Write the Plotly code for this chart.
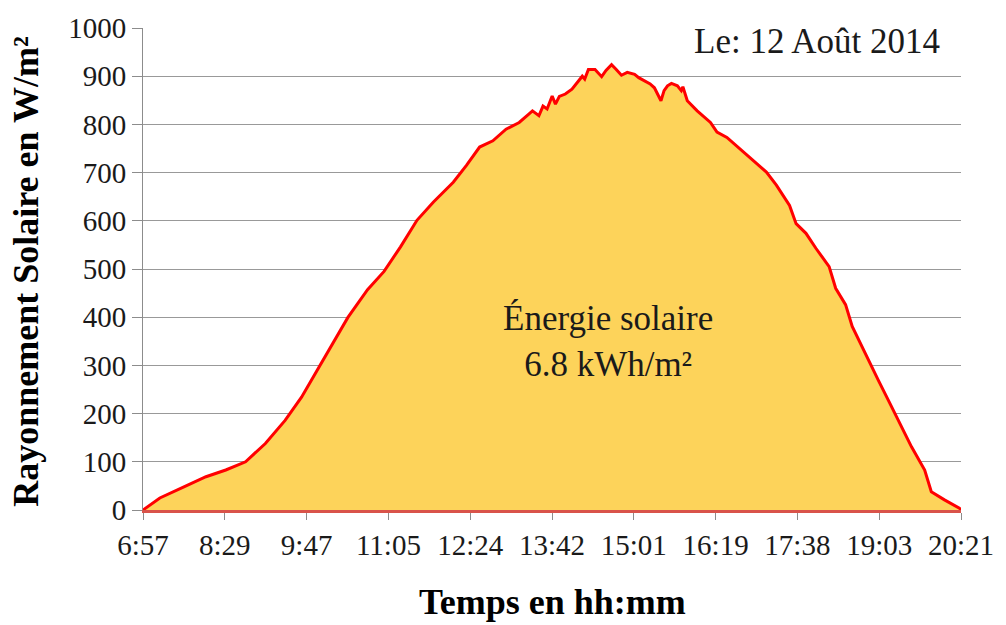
import plotly.graph_objects as go

# Position of each sample along the categorical time axis (0 = 6:57, 100 = 20:21)
sample_pos = [0.0, 2.06, 4.87, 7.70, 10.12, 12.54, 14.96, 17.37, 19.38, 21.40,
              22.21, 25.03, 27.45, 29.47, 31.48, 33.49, 35.51, 37.93, 39.54, 41.15,
              42.77, 44.38, 45.99, 46.8, 47.2, 47.61, 48.40, 48.9, 49.4, 50.02,
              50.42, 50.9, 51.63, 52.44, 53.24, 53.7, 54.0, 54.45, 55.26, 56.07,
              56.6, 57.28, 57.8, 58.49, 59.2, 60.10, 60.6, 61.31, 62.0, 62.52,
              63.32, 63.7, 64.12, 64.6, 65.33, 65.8, 66.0, 66.54, 67.75, 69.37,
              70.17, 71.38, 73.00, 74.61, 76.21, 77.43, 79.04, 79.84, 81.05, 82.26,
              83.88, 84.68, 85.89, 86.70, 88.72, 89.93, 91.14, 92.35, 93.95, 95.56,
              96.37, 97.98, 99.80, 100.0]

# Solar irradiance in W/m²
irradiance = [0, 25, 47, 69, 83, 100, 138, 186, 234, 292,
              316, 399, 457, 495, 546, 601, 639, 680, 715, 753,
              766, 790, 804, 815, 822, 828, 818, 838, 832, 859,
              842, 858, 863, 873, 890, 900, 894, 914, 914, 899,
              912, 924, 915, 902, 908, 904, 897, 890, 884, 876,
              849, 870, 880, 885, 880, 870, 878, 849, 828, 804,
              784, 773, 749, 725, 701, 674, 632, 594, 574, 543,
              505, 460, 426, 381, 309, 268, 227, 186, 131, 83,
              38, 21, 4, 0]

tick_positions = [0, 10, 20, 30, 40, 50, 60, 70, 80, 90, 100]
tick_labels = ["6:57", "8:29", "9:47", "11:05", "12:24", "13:42",
               "15:01", "16:19", "17:38", "19:03", "20:21"]

y_ticks = [0, 100, 200, 300, 400, 500, 600, 700, 800, 900, 1000]

SERIF = "Liberation Serif, Times New Roman, serif"

fig = go.Figure()
fig.add_trace(go.Scatter(
    x=sample_pos, y=irradiance, mode="lines",
    line=dict(color="#FF0000", width=3),
    fill="tozeroy", fillcolor="#FDD35A",
    hoverinfo="x+y", showlegend=False,
))

fig.update_layout(
    width=1006, height=625,
    margin=dict(l=143, r=36, t=25, b=115),
    paper_bgcolor="white", plot_bgcolor="white",
    font=dict(family=SERIF, size=29, color="#1a1a1a"),
    xaxis=dict(
        range=[0, 100], tickvals=tick_positions, ticktext=tick_labels,
        showgrid=False, zeroline=False,
        showline=True, linecolor="#D9534A", linewidth=3,
        ticks="outside", ticklen=7, tickcolor="#8c8c8c", tickwidth=1,
        tickfont=dict(family=SERIF, size=29, color="#1a1a1a"),
    ),
    yaxis=dict(
        range=[0, 1000], tickvals=y_ticks,
        showgrid=True, gridcolor="#999999", gridwidth=1,
        zeroline=False,
        showline=True, linecolor="#8c8c8c", linewidth=1,
        ticks="outside", ticklen=10, tickcolor="#8c8c8c", tickwidth=1,
        tickfont=dict(family=SERIF, size=29, color="#1a1a1a"),
    ),
    annotations=[
        dict(text="<b>Rayonnement Solaire en W/m²</b>", xref="paper", yref="paper",
             x=(25 - 143) / 827, y=(510 - 270) / 485, textangle=-90,
             showarrow=False, font=dict(family=SERIF, size=36, color="#000000"),
             xanchor="center", yanchor="middle"),
        dict(text="<b>Temps en hh:mm</b>", xref="paper", yref="paper",
             x=(557 - 143) / 827, y=(510 - 603) / 485,
             showarrow=False, font=dict(family=SERIF, size=36, color="#000000"),
             xanchor="center", yanchor="middle"),
        dict(text="Le: 12 Août 2014", xref="paper", yref="paper",
             x=(824 - 143) / 827, y=(510 - 38) / 485,
             showarrow=False, font=dict(family=SERIF, size=35, color="#1a1a1a"),
             xanchor="center", yanchor="middle",
             bgcolor="white", width=304, height=52),
        dict(text="Énergie solaire<br>6.8 kWh/m²", xref="paper", yref="paper",
             x=(613 - 143) / 827, y=(510 - 340) / 485,
             showarrow=False, font=dict(family=SERIF, size=35, color="#1a1a1a"),
             xanchor="center", yanchor="middle"),
    ],
)

fig.write_html(
    "out.html",
    config={"displayModeBar": False},
    post_script="document.body.style.margin='0';document.body.style.overflow='hidden';",
)
